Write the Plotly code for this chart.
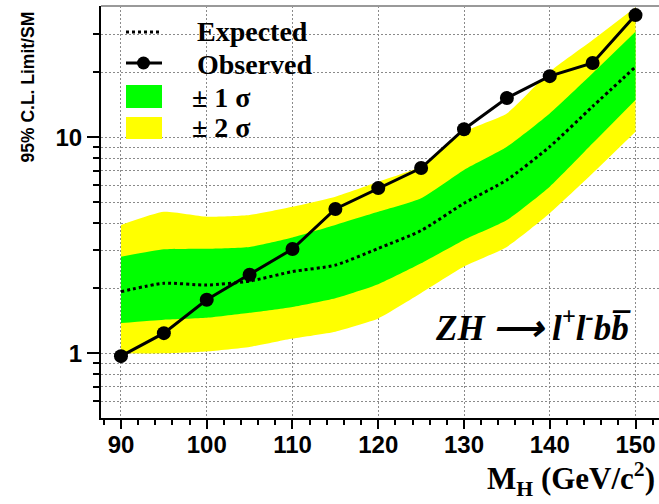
import plotly.graph_objects as go

# ---------------- data ----------------
mass = [90, 95, 100, 105, 110, 115, 120, 125, 130, 135, 140, 145, 150]
observed = [0.97, 1.24, 1.77, 2.31, 3.04, 4.66, 5.82, 7.21, 10.9, 15.2, 19.2, 22.1, 36.8]
expected = [1.93, 2.11, 2.07, 2.16, 2.39, 2.56, 3.06, 3.70, 4.95, 6.35, 9.05, 13.9, 21.2]
plus1 = [2.80, 3.03, 3.05, 3.11, 3.44, 3.93, 4.52, 5.22, 7.06, 9.04, 12.9, 19.8, 30.8]
minus1 = [1.38, 1.43, 1.46, 1.54, 1.64, 1.80, 2.09, 2.61, 3.35, 4.14, 5.91, 9.38, 14.9]
plus2 = [3.93, 4.52, 4.29, 4.37, 4.77, 5.31, 6.23, 7.35, 10.6, 12.9, 20.1, 28.2, 40.0]
minus2 = [1.00, 1.00, 1.02, 1.07, 1.17, 1.26, 1.45, 1.90, 2.52, 3.11, 4.45, 6.81, 10.6]

x_ticks = [90, 100, 110, 120, 130, 140, 150]
y_major = [1, 10]
y_major_text = ["1", "10"]
y_minor = [0.6, 0.7, 0.8, 0.9, 2, 3, 4, 5, 6, 7, 8, 9, 20, 30]

legend_labels = ["Expected", "Observed", "\u00b1 1 \u03c3", "\u00b1 2 \u03c3"]

GREEN = "#00ff00"
YELLOW = "#ffff00"

W, H = 659, 504
L, R, T, B = 101, 0, 6, 86
PW, PH = W - L - R, H - T - B


def px(x):
    return (x - L) / PW


def py(y):
    return (H - B - y) / PH


fig = go.Figure()

# +-2 sigma band
fig.add_trace(go.Scatter(x=mass, y=minus2, mode="lines", line=dict(width=0, color=YELLOW, shape="spline", smoothing=0.5),
                         showlegend=False, hoverinfo="skip"))
fig.add_trace(go.Scatter(x=mass, y=plus2, mode="lines", line=dict(width=0, color=YELLOW, shape="spline", smoothing=0.5),
                         fill="tonexty", fillcolor=YELLOW, showlegend=False, name=legend_labels[3]))
# +-1 sigma band
fig.add_trace(go.Scatter(x=mass, y=minus1, mode="lines", line=dict(width=0, color=GREEN, shape="spline", smoothing=0.5),
                         showlegend=False, hoverinfo="skip"))
fig.add_trace(go.Scatter(x=mass, y=plus1, mode="lines", line=dict(width=0, color=GREEN, shape="spline", smoothing=0.5),
                         fill="tonexty", fillcolor=GREEN, showlegend=False, name=legend_labels[2]))
# expected
fig.add_trace(go.Scatter(x=mass, y=expected, mode="lines",
                         line=dict(color="black", width=3, dash="3px,3px", shape="spline", smoothing=0.6),
                         showlegend=False, name=legend_labels[0]))
# observed
fig.add_trace(go.Scatter(x=mass, y=observed, mode="lines+markers",
                         line=dict(color="black", width=3),
                         marker=dict(color="black", size=14),
                         showlegend=False, name=legend_labels[1]))

grid = dict(gridcolor="#8a8a8a", gridwidth=1, griddash="2px,2px")

fig.update_xaxes(
    range=[87.67, 152.74], tickmode="array", tickvals=x_ticks,
    ticks="outside", ticklen=9, tickwidth=2, tickcolor="black",
    showline=True, linecolor="black", linewidth=2,
    showgrid=True, **grid, zeroline=False, ticklabelstandoff=-5,
    tickfont=dict(family="Liberation Sans", size=24, color="black", weight="bold"),
    minor=dict(tick0=0, dtick=2, ticks="outside", ticklen=5, tickwidth=2, tickcolor="black", showgrid=False),
)
fig.update_yaxes(
    type="log", range=[-0.2995, 1.608], tickmode="array", tickvals=y_major, ticktext=y_major_text,
    ticks="outside", ticklen=12, tickwidth=2, tickcolor="black",
    showline=True, linecolor="black", linewidth=2,
    showgrid=True, **grid, zeroline=False,
    tickfont=dict(family="Liberation Sans", size=24, color="black", weight="bold"),
    minor=dict(tickmode="array", tickvals=y_minor, ticks="outside", ticklen=6, tickwidth=2,
               tickcolor="black", showgrid=True, **grid),
)

shapes = [
    # top frame line (grey)
    dict(type="line", xref="paper", yref="paper", x0=0, x1=1, y0=1, y1=1, line=dict(color="#999999", width=2)),
    # legend swatches
    dict(type="line", xref="paper", yref="paper", x0=px(126), x1=px(162), y0=py(32), y1=py(32),
         line=dict(color="black", width=3, dash="3px,3px")),
    dict(type="line", xref="paper", yref="paper", x0=px(126), x1=px(162), y0=py(63), y1=py(63),
         line=dict(color="black", width=3)),
    dict(type="circle", xref="paper", yref="paper", x0=px(137), x1=px(150), y0=py(69.5), y1=py(56.5),
         fillcolor="black", line=dict(color="black", width=0)),
    dict(type="rect", xref="paper", yref="paper", x0=px(126), x1=px(162), y0=py(108), y1=py(85),
         fillcolor=GREEN, line=dict(width=0)),
    dict(type="rect", xref="paper", yref="paper", x0=px(126), x1=px(162), y0=py(139), y1=py(117),
         fillcolor=YELLOW, line=dict(width=0)),
]

leg_font = dict(family="Liberation Serif", size=28, color="black", weight="bold")
annotations = [
    dict(text=legend_labels[0], x=px(195), y=py(32), xanchor="left", yanchor="middle", font=leg_font),
    dict(text=legend_labels[1], x=px(195), y=py(64), xanchor="left", yanchor="middle", font=leg_font),
    dict(text=legend_labels[2], x=px(190), y=py(97), xanchor="left", yanchor="middle", font=leg_font),
    dict(text=legend_labels[3], x=px(190), y=py(128), xanchor="left", yanchor="middle", font=leg_font),
    # y title
    dict(text="95% C.L. Limit/SM", textangle=-90, x=px(27), y=py(10), xanchor="center", yanchor="top",
         font=dict(family="Liberation Sans", size=17.5, color="black", weight="bold")),
    # x title
    dict(text="M<sub>H</sub> (GeV/c<sup>2</sup>)", x=px(657), y=py(503), xanchor="right", yanchor="bottom",
         font=dict(family="Liberation Serif", size=31, color="black", weight="bold")),
    # process label
    dict(text="ZH \u27f6 l<sup>+</sup>l<sup>-</sup>bb\u0305", x=px(533), y=py(325), xanchor="center", yanchor="middle",
         font=dict(family="Liberation Serif", size=35, color="black", weight="bold", style="italic")),
]
for a in annotations:
    a.setdefault("xref", "paper")
    a.setdefault("yref", "paper")
    a["showarrow"] = False

fig.update_layout(
    width=W, height=H,
    margin=dict(l=L, r=R, t=T, b=B),
    paper_bgcolor="white", plot_bgcolor="white",
    showlegend=False,
    shapes=shapes, annotations=annotations,
)

fig.write_html("out.html")
